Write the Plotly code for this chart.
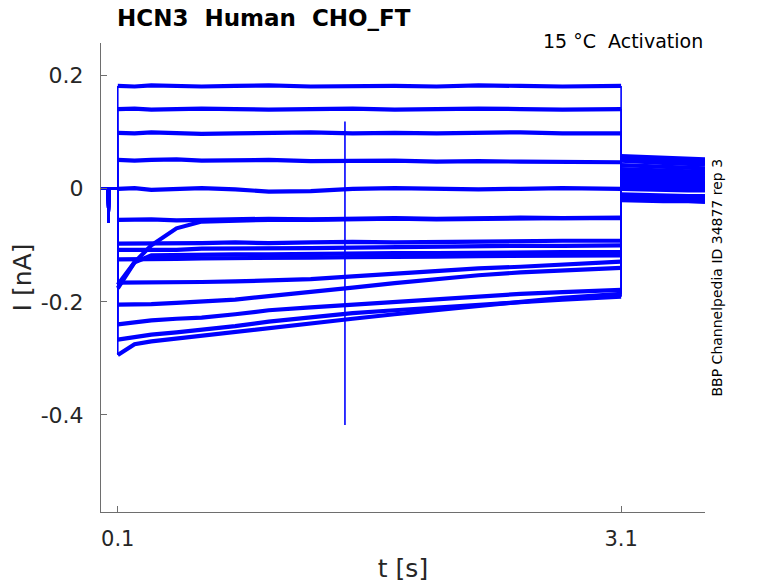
import plotly.graph_objects as go

# holding segment before the step (s, nA)
hold_t = [0.0, 0.04, 0.045, 0.05, 0.1]
hold_i = [0.0, 0.0, -0.06, 0.0, 0.0]

# activation step, 0.1 s .. 3.1 s
step_t = [0.1, 0.2, 0.3, 0.45, 0.6, 0.8, 1.0, 1.25, 1.5, 1.75, 2.0, 2.25, 2.5, 2.75, 3.1]
step_i = [
    [0.182, 0.181, 0.183, 0.182, 0.181, 0.182, 0.183, 0.181, 0.182, 0.182, 0.181, 0.183, 0.182, 0.181, 0.182],
    [0.141, 0.142, 0.140, 0.141, 0.142, 0.141, 0.140, 0.141, 0.142, 0.140, 0.141, 0.142, 0.141, 0.140, 0.141],
    [0.099, 0.098, 0.100, 0.099, 0.097, 0.098, 0.099, 0.100, 0.098, 0.099, 0.098, 0.099, 0.100, 0.098, 0.098],
    [0.051, 0.050, 0.051, 0.052, 0.050, 0.050, 0.051, 0.049, 0.049, 0.050, 0.048, 0.049, 0.048, 0.048, 0.047],
    [0.000, 0.001, -0.002, 0.000, 0.001, -0.001, -0.005, -0.004, 0.000, 0.001, 0.000, -0.001, 0.000, 0.001, 0.000],
    [-0.055, -0.055, -0.054, -0.056, -0.055, -0.054, -0.053, -0.054, -0.053, -0.052, -0.053, -0.052, -0.051, -0.052, -0.051],
    [-0.176, -0.130, -0.100, -0.070, -0.058, -0.056, -0.055, -0.055, -0.054, -0.053, -0.054, -0.053, -0.052, -0.052, -0.052],
    [-0.097, -0.097, -0.096, -0.097, -0.096, -0.095, -0.096, -0.095, -0.094, -0.095, -0.094, -0.093, -0.093, -0.092, -0.092],
    [-0.108, -0.108, -0.107, -0.108, -0.106, -0.106, -0.105, -0.105, -0.104, -0.103, -0.103, -0.102, -0.101, -0.101, -0.100],
    [-0.170, -0.130, -0.118, -0.117, -0.117, -0.116, -0.116, -0.115, -0.115, -0.114, -0.114, -0.113, -0.113, -0.112, -0.112],
    [-0.125, -0.125, -0.124, -0.124, -0.123, -0.123, -0.122, -0.122, -0.121, -0.121, -0.120, -0.119, -0.119, -0.118, -0.118],
    [-0.166, -0.166, -0.166, -0.165, -0.165, -0.164, -0.163, -0.160, -0.155, -0.150, -0.145, -0.141, -0.138, -0.134, -0.129],
    [-0.205, -0.205, -0.204, -0.202, -0.200, -0.196, -0.190, -0.183, -0.175, -0.167, -0.160, -0.153, -0.148, -0.144, -0.140],
    [-0.240, -0.236, -0.233, -0.230, -0.228, -0.222, -0.215, -0.210, -0.205, -0.200, -0.195, -0.190, -0.186, -0.183, -0.179],
    [-0.267, -0.262, -0.258, -0.254, -0.250, -0.243, -0.235, -0.228, -0.220, -0.215, -0.210, -0.205, -0.200, -0.196, -0.191],
    [-0.294, -0.275, -0.270, -0.265, -0.260, -0.252, -0.245, -0.238, -0.230, -0.222, -0.215, -0.208, -0.200, -0.193, -0.186],
]

# tail after the step, 3.1 s .. 3.6 s
tail_t = [3.1, 3.2, 3.35, 3.5, 3.6]
tail_i = [
    [-0.015, -0.016, -0.017, -0.018, -0.018],
    [-0.020, -0.021, -0.022, -0.022, -0.023],
    [-0.010, -0.011, -0.012, -0.013, -0.013],
    [0.000, -0.001, -0.002, -0.003, -0.003],
    [0.005, 0.004, 0.003, 0.002, 0.002],
    [0.010, 0.009, 0.008, 0.007, 0.006],
    [0.015, 0.014, 0.013, 0.012, 0.011],
    [0.012, 0.011, 0.010, 0.009, 0.009],
    [0.020, 0.019, 0.018, 0.017, 0.016],
    [0.025, 0.024, 0.022, 0.021, 0.020],
    [0.030, 0.029, 0.027, 0.026, 0.025],
    [0.035, 0.034, 0.032, 0.031, 0.030],
    [0.042, 0.041, 0.039, 0.037, 0.036],
    [0.050, 0.048, 0.046, 0.044, 0.043],
    [0.055, 0.053, 0.051, 0.049, 0.048],
    [0.058, 0.057, 0.055, 0.053, 0.052],
]

# one trace has a short artifact in the middle of the step
artifact_trace = 4
artifact_t = 1.454
artifact_i = [0.119, -0.418]

blue = "#0000ff"
noisy = dict(color=blue, width=4.2)   # noisy current segments look like a thick band
thin = dict(color=blue, width=1.6)    # fast jumps are thin

fig = go.Figure()


def seg(x, y, line):
    fig.add_trace(go.Scatter(x=x, y=y, mode="lines", line=line,
                             hoverinfo="skip", showlegend=False))


for k in range(len(step_i)):
    seg(hold_t, hold_i, dict(color=blue, width=2.4))
    seg([hold_t[-1], step_t[0]], [hold_i[-1], step_i[k][0]], thin)
    seg(step_t, step_i[k], noisy)
    seg([step_t[-1], tail_t[0]], [step_i[k][-1], tail_i[k][0]], thin)
    seg(tail_t, tail_i[k], noisy)

# artifact spike
base = step_i[artifact_trace][7]
seg([artifact_t] * 4, [base] + artifact_i + [base], thin)

font = "DejaVu Sans, Arial, sans-serif"
axis_col = "#6e6e6e"
nb = "\u00a0"

fig.update_layout(
    width=770, height=575,
    margin=dict(l=93, r=73, t=35, b=71),
    paper_bgcolor="white", plot_bgcolor="white",
    font=dict(family=font, color="#262626"),
    xaxis=dict(range=[0, 3.6], tickvals=[0.1, 3.1], ticktext=["0.1", "3.1"],
               ticks="inside", ticklen=6, tickcolor=axis_col, ticklabelstandoff=8,
               showline=True, linecolor=axis_col, linewidth=1, automargin=False,
               showgrid=False, zeroline=False, tickfont=dict(size=21),
               title=dict(text="t [s]", font=dict(size=25), standoff=10)),
    yaxis=dict(range=[-0.572, 0.258], tickvals=[0.2, 0, -0.2, -0.4],
               ticktext=["0.2", "0", "-0.2", "-0.4"],
               ticks="inside", ticklen=6, tickcolor=axis_col, ticklabelstandoff=12,
               showline=True, linecolor=axis_col, linewidth=1, automargin=False,
               showgrid=False, zeroline=False, tickfont=dict(size=22),
               title=dict(text="I [nA]", font=dict(size=25), standoff=14)),
    annotations=[
        dict(text="<b>HCN3" + nb * 2 + "Human" + nb * 2 + "CHO_FT</b>",
             xref="paper", yref="paper", x=(115 - 101) / 604, y=1.0, yshift=25,
             xanchor="left", yanchor="middle", showarrow=False,
             font=dict(size=23, color="black")),
        dict(text="15 °C" + nb * 2 + "Activation", xref="paper", yref="paper",
             x=1.0, y=1.0, yshift=2, xanchor="right", yanchor="middle",
             showarrow=False, font=dict(size=19, color="black")),
        dict(text="BBP Channelpedia ID 34877 rep 3", xref="paper", yref="paper",
             x=1.0, y=0.5, xshift=11, textangle=-90, xanchor="center", yanchor="middle",
             showarrow=False, font=dict(size=14, color="black")),
    ],
)

fig.write_html("out.html")
